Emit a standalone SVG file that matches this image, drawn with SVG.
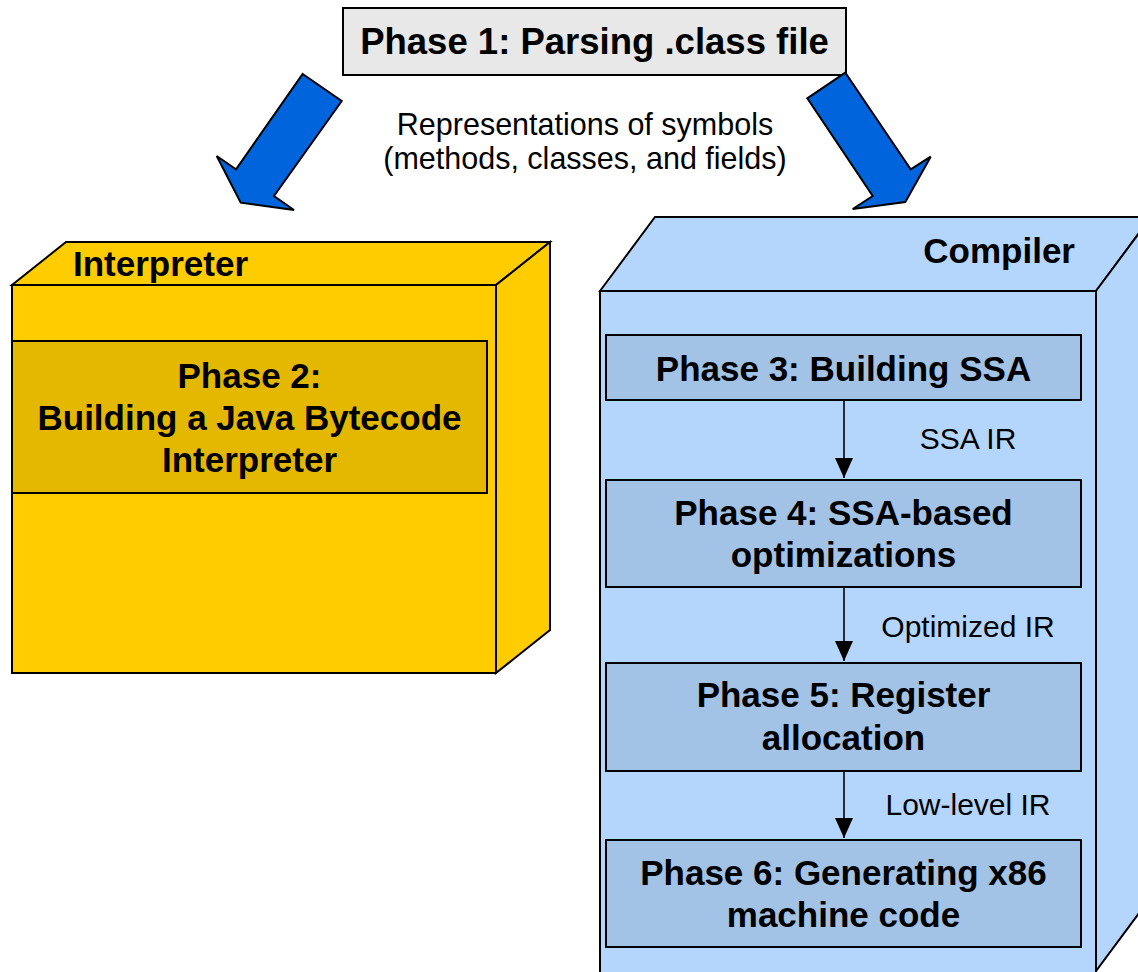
<svg xmlns="http://www.w3.org/2000/svg" width="1138" height="972" viewBox="0 0 1138 972">
  <defs>
    <style>
      .bold { font-family: "Liberation Sans", Arial, sans-serif; font-weight: bold; fill: #000; }
      .reg { font-family: "Liberation Sans", Arial, sans-serif; fill: #000; }
      .edge { stroke: #000; stroke-width: 2; stroke-linejoin: miter; }
      .gold { fill: #FFCC00; }
      .goldInner { fill: #E5B800; }
      .sky { fill: #B4D6FC; }
      .skyInner { fill: #A2C2E6; }
      .flow { fill: #0064DC; stroke: #000; stroke-width: 2; stroke-linejoin: miter; }
      .link { stroke: #000; stroke-width: 1.6; fill: none; }
    </style>
    <marker id="head" viewBox="0 0 20 18" refX="20" refY="9" markerWidth="20" markerHeight="18" markerUnits="userSpaceOnUse" orient="auto">
      <path d="M0,0 L20,9 L0,18 Z" fill="#000"/>
    </marker>
  </defs>

  <rect width="1138" height="972" fill="#fff"/>

  <!-- Parsing stage -->
  <g id="phase1">
    <rect x="343" y="8" width="503" height="67" fill="#E8E8E8" class="edge"/>
    <text x="594.5" y="54" text-anchor="middle" class="bold" font-size="36.5">Phase 1: Parsing .class file</text>
  </g>

  <!-- Big block arrows fanning out from the parser -->
  <g id="fanout">
    <polygon class="flow" points="302.7,74 341.7,101 274,196 294,210 240.7,202.7 216.7,156 236,169.3"/>
    <polygon class="flow" points="845.3,72.7 807.3,98.3 872.7,196 852.7,209 905.3,202 930.7,156.7 910.7,169.3"/>
    <text x="585" y="135" text-anchor="middle" class="reg" font-size="30.5">Representations of symbols</text>
    <text x="585" y="169" text-anchor="middle" class="reg" font-size="30.5">(methods, classes, and fields)</text>
  </g>

  <!-- Interpreter package (3D box) -->
  <g id="interpreter">
    <polygon class="gold edge" points="12,285 66,242 550,242 496,285"/>
    <polygon class="gold edge" points="496,285 550,242 550,630 496,673"/>
    <rect x="12" y="285" width="484" height="388" class="gold edge"/>
    <text x="73" y="276" class="bold" font-size="35">Interpreter</text>
  </g>

  <g id="phase2">
    <rect x="12" y="341" width="475" height="152" class="goldInner edge"/>
    <text x="249.5" y="388" text-anchor="middle" class="bold" font-size="35">Phase 2:</text>
    <text x="249.5" y="430" text-anchor="middle" class="bold" font-size="35">Building a Java Bytecode</text>
    <text x="249.5" y="472" text-anchor="middle" class="bold" font-size="35">Interpreter</text>
  </g>

  <!-- Compiler package (3D box) -->
  <g id="compiler">
    <polygon class="sky edge" points="600,291 655,217 1151,217 1096,291"/>
    <polygon class="sky edge" points="1096,291 1151,217 1151,897 1096,971"/>
    <rect x="600" y="291" width="496" height="683" class="sky edge"/>
    <text x="1075" y="263" text-anchor="end" class="bold" font-size="35">Compiler</text>
  </g>

  <g id="phase3">
    <rect x="606" y="335" width="475" height="65" class="skyInner edge"/>
    <text x="843.5" y="381" text-anchor="middle" class="bold" font-size="35">Phase 3: Building SSA</text>
  </g>

  <g id="phase4">
    <rect x="606" y="480" width="475" height="107" class="skyInner edge"/>
    <text x="843.5" y="525" text-anchor="middle" class="bold" font-size="35">Phase 4: SSA-based</text>
    <text x="843.5" y="567" text-anchor="middle" class="bold" font-size="35">optimizations</text>
  </g>

  <g id="phase5">
    <rect x="606" y="663" width="475" height="108" class="skyInner edge"/>
    <text x="843.5" y="707" text-anchor="middle" class="bold" font-size="35">Phase 5: Register</text>
    <text x="843.5" y="750" text-anchor="middle" class="bold" font-size="35">allocation</text>
  </g>

  <g id="phase6">
    <rect x="606" y="840" width="475" height="107" class="skyInner edge"/>
    <text x="843.5" y="885" text-anchor="middle" class="bold" font-size="35">Phase 6: Generating x86</text>
    <text x="843.5" y="927" text-anchor="middle" class="bold" font-size="35">machine code</text>
  </g>

  <!-- Pipeline connectors -->
  <g id="connectors">
    <line x1="844" y1="401" x2="844" y2="478" class="link" marker-end="url(#head)"/>
    <text x="968" y="449" text-anchor="middle" class="reg" font-size="30">SSA IR</text>
    <line x1="844" y1="588" x2="844" y2="661" class="link" marker-end="url(#head)"/>
    <text x="968" y="637" text-anchor="middle" class="reg" font-size="30">Optimized IR</text>
    <line x1="844" y1="772" x2="844" y2="838" class="link" marker-end="url(#head)"/>
    <text x="968" y="815" text-anchor="middle" class="reg" font-size="30">Low-level IR</text>
  </g>
</svg>
